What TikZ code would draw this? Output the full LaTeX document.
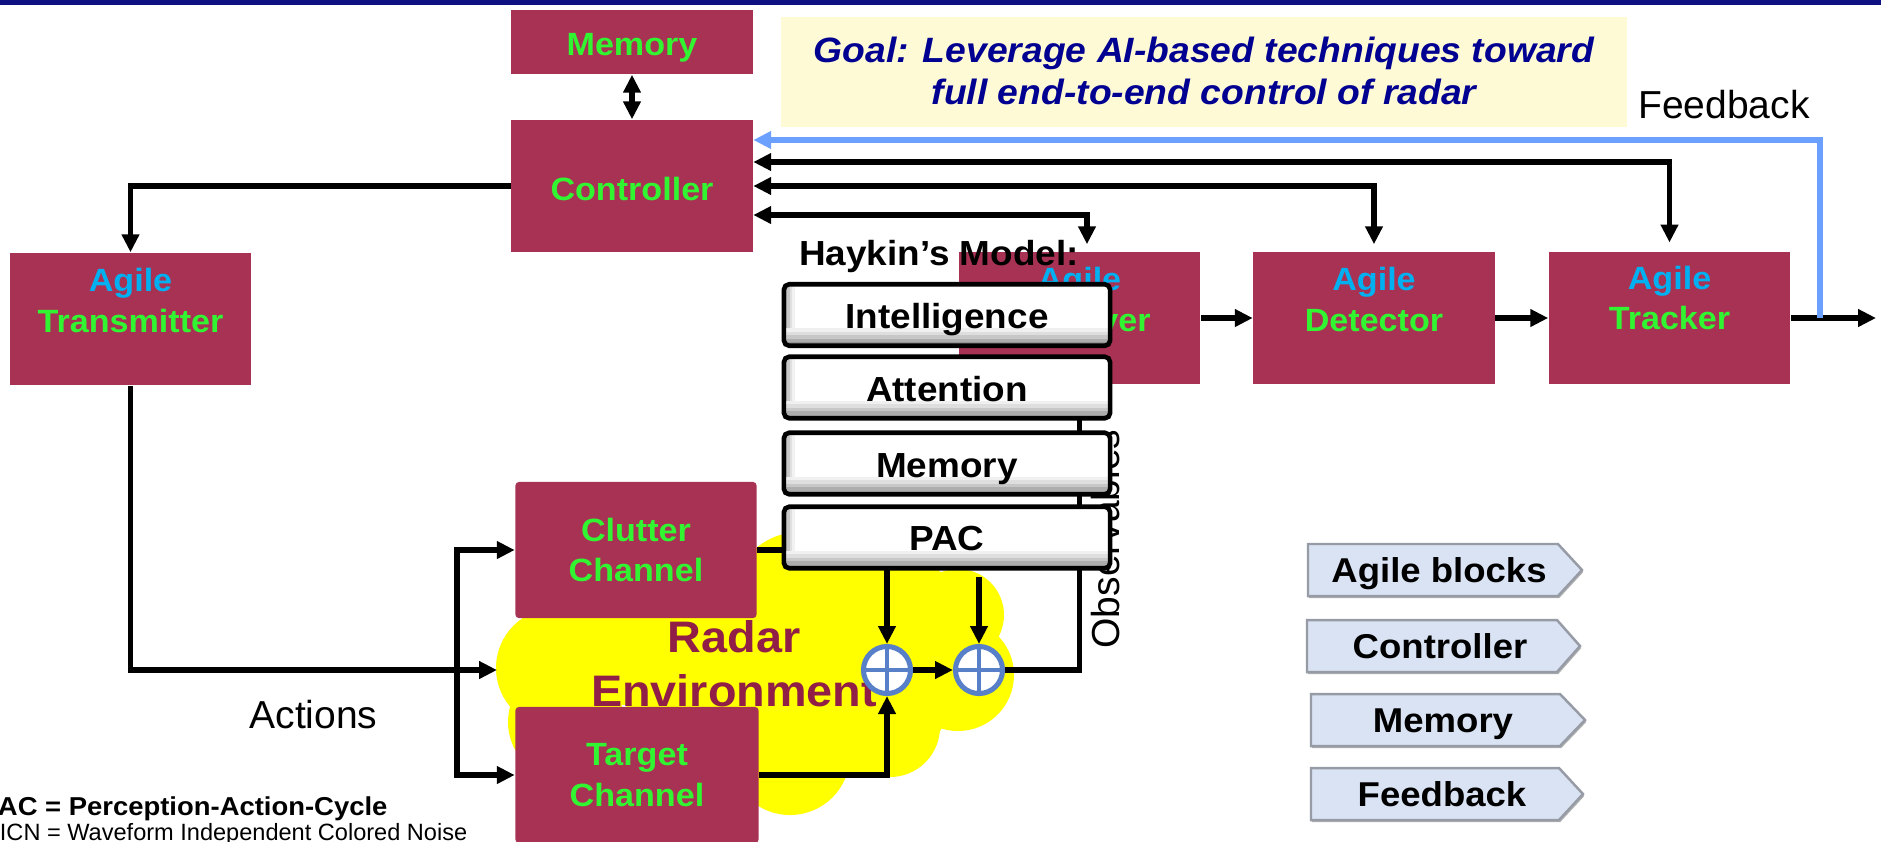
\documentclass[tikz,border=0pt]{standalone}
\usepackage{fontspec}
\setmainfont{Liberation Sans}[BoldFeatures={FakeStretch=1.06},BoldItalicFeatures={FakeStretch=1.06}]
\usetikzlibrary{arrows.meta,calc}

\definecolor{boxred}{RGB}{168,50,84}
\definecolor{lblgreen}{RGB}{50,245,50}
\definecolor{lblblue}{RGB}{0,176,240}
\definecolor{goalfill}{RGB}{255,250,214}
\definecolor{goalblue}{RGB}{0,0,145}
\definecolor{topbar}{RGB}{12,16,128}
\definecolor{envtext}{RGB}{145,30,70}
\definecolor{sumblue}{RGB}{88,128,200}
\definecolor{fbblue}{RGB}{108,160,255}
\definecolor{legfill}{RGB}{218,227,243}
\definecolor{legedge}{RGB}{150,155,165}
\definecolor{cloudyellow}{RGB}{255,255,0}

\begin{document}
\begin{tikzpicture}[x=0.01cm, y=-0.01cm,
  >={Triangle[length=5.1pt,width=4.8pt]},
  redbox/.style={rectangle, fill=boxred, inner sep=0pt, minimum width=2.41cm, minimum height=1.32cm},
  chanbox/.style={redbox, rounded corners=1pt, minimum height=1.36cm},
  lbl/.style={font=\fontsize{9.15}{11.5}\selectfont\bfseries, align=center, inner sep=0pt},
  lblone/.style={font=\fontsize{9.15}{11.5}\selectfont\bfseries, inner sep=0pt, anchor=base, text=lblgreen},
  conn/.style={line width=1.45pt, ->},
  conn2/.style={line width=1.45pt, <->},
  fbline/.style={line width=1.45pt, draw=fbblue, ->},
  sumnode/.style={circle, draw=sumblue, line width=1.45pt, fill=white, minimum size=0.47cm, inner sep=0pt,
    path picture={\draw[sumblue, line width=1.3pt]
      (path picture bounding box.north) -- (path picture bounding box.south)
      (path picture bounding box.west) -- (path picture bounding box.east);}},
  % white bar with a soft inner shadow on its left and bottom edges
  haybox/.style={rectangle, draw=black, line width=1.3pt, fill=white, rounded corners=1.5pt,
    minimum width=3.26cm, minimum height=0.615cm, inner sep=0pt,
    path picture={
      \foreach \a/\b/\c in {0pt/0.8pt/34, 0.8pt/1.6pt/22, 1.6pt/2.4pt/12, 2.4pt/3.2pt/5}
        \fill[black!\c, sharp corners] ([xshift=\a]path picture bounding box.south west) rectangle ([xshift=\b]path picture bounding box.north west);
      \foreach \a/\b/\c in {0pt/1pt/42, 1pt/2pt/32, 2pt/3pt/22, 3pt/4pt/13, 4pt/5pt/6}
        \fill[black!\c, sharp corners] ([yshift=\a]path picture bounding box.south west) rectangle ([yshift=\b]path picture bounding box.south east);}},
  haytxt/.style={font=\fontsize{9.9}{12}\selectfont\bfseries, inner sep=0pt, anchor=base},
  regtxt/.style={font=\fontsize{11.1}{13}\selectfont, inner sep=0pt, anchor=base},
  legshape/.style={fill=legfill, draw=legedge, line width=0.7pt},
  legtxt/.style={font=\fontsize{9.8}{12}\selectfont\bfseries, inner sep=0pt, anchor=base},
]
\useasboundingbox (0,0) rectangle (1881,841);
\fill[white] (0,0) rectangle (1881,841);

% title rule
\fill[topbar] (0,0) rectangle (1881,5);

% goal banner
\node[fill=goalfill, inner sep=0pt, minimum width=8.46cm, minimum height=1.1cm] (goal) at (1204,72) {};
\node[font=\fontsize{10}{11.95}\selectfont\bfseries\itshape, text=goalblue, align=center, inner sep=0pt] (goal-l) at (1204,71)
  {Goal: Leverage AI-based techniques toward\\full end-to-end control of radar};
\node[regtxt] (fb-l) at (1724,118) {Feedback};

% radar environment cloud
\foreach \cx/\cy/\r in {556/668/60, 566/722/58, 790/755/60, 890/727/50, 958/675/56, 958/615/46,
                        910/605/45, 870/600/62, 800/600/68, 720/690/95, 860/680/95}
  \fill[cloudyellow] (\cx,\cy) circle[radius=\r];
\fill[cloudyellow] (545,618) rectangle (760,705);
\coordinate (envW) at (497,670);
\node[font=\fontsize{12.55}{15.36}\selectfont\bfseries, text=envtext, align=center, inner sep=0pt] (env-l) at (734,664)
  {Radar\\Environment};

% blocks
\node[redbox, minimum height=0.64cm] (mem) at (632,42) {};
\node[redbox] (ctl) at (632,186) {};
\node[redbox] (tx) at (130.5,319) {};
\node[redbox] (rx) at (1079.5,318) {};
\node[redbox] (dt) at (1374,318) {};
\node[redbox] (tk) at (1669.5,318) {};
\node[chanbox] (cl) at (636,550) {};
\node[chanbox, minimum width=2.43cm] (tg) at (637,775) {};

\node[lblone] (mem-l) at ($(mem)+(0,13.5)$) {Memory};
\node[lblone] (ctl-l) at ($(ctl)+(0,14)$) {Controller};
\node[lbl] (tx-l) at ($(tx)+(0,-18.5)$) {{\color{lblblue}Agile}\\{\color{lblgreen}Transmitter}};
\node[lbl] (rx-l) at ($(rx)+(0,-18.5)$) {{\color{lblblue}Agile}\\{\color{lblgreen}Receiver}};
\node[lbl] (dt-l) at ($(dt)+(0,-18.5)$) {{\color{lblblue}Agile}\\{\color{lblgreen}Detector}};
\node[lbl] (tk-l) at ($(tk)+(0,-20)$) {{\color{lblblue}Agile}\\{\color{lblgreen}Tracker}};
\node[lbl, text=lblgreen] (cl-l) at (cl) {Clutter\\Channel};
\node[lbl, text=lblgreen] (tg-l) at (tg) {Target\\Channel};

% summing junctions
\node[sumnode] (s1) at (887,670) {};
\node[sumnode] (s2) at (979,670) {};
\coordinate (nz) at (979,577);
\coordinate (tap) at (1820,318);
\coordinate (out) at (1876,318);
\coordinate (br) at (457,670);

% connectors
\draw[conn2] (mem.south) -- (ctl.north);
\draw[conn] (ctl.west) -| (tx.north);
\draw[conn2, shorten >=2pt] ($(ctl.east)+(0,29)$) -| ($(rx.north)+(7.5,0)$);
\draw[conn2, shorten >=2pt] (ctl.east) -| (dt.north);
\draw[conn2, shorten >=2.5pt] ($(ctl.east)+(0,-24)$) -| (tk.north);
\draw[conn] (rx) -- (dt);
\draw[conn] (dt) -- (tk);
\draw[conn] (tk.east) -- (out);
\draw[fbline] (tap) |- ($(ctl.east)+(0,-46)$);

\draw[conn] (tx.south) |- (envW);
\draw[conn] (br) |- (cl.west);
\draw[conn] (br) |- (tg.west);
\draw[conn] (cl.east) -| (s1.north);
\draw[conn] (tg.east) -| (s1.south);
\draw[conn] (s1) -- (s2);
\draw[conn] (nz) -- (s2.north);
\draw[conn] (s2.east) -| (rx.south);

\node[regtxt] (act-l) at (313.5,728) {Actions};
\node[regtxt, rotate=90] (obs-l) at (1119,539) {Observables};

% Haykin's model stack
\node[haytxt] (hay-l) at (939,265) {Haykin’s Model:};
\node[haybox] (h1) at (947,315) {};
\node[haybox] (h2) at (947,387.5) {};
\node[haybox] (h3) at (947,463.5) {};
\node[haybox] (h4) at (947,537.5) {};
\node[haytxt] (h1-l) at ($(h1)+(0,13.5)$) {Intelligence};
\node[haytxt] (h2-l) at ($(h2)+(0,13.5)$) {Attention};
\node[haytxt] (h3-l) at ($(h3)+(0,13.5)$) {Memory};
\node[haytxt] (h4-l) at ($(h4)+(0,12.5)$) {PAC};

% legend tags, each with a faint shadow
\foreach \lx/\bx/\tx/\ty in {1308/1558/1582/544, 1307/1557/1580/620, 1311/1560/1585/694, 1311/1559/1583/768} {
  \begin{scope}[xshift=0.35pt, yshift=-0.6pt]
    \fill[black!30] (\lx,\ty) -- (\bx,\ty) -- (\tx,{\ty+26}) -- (\bx,{\ty+52}) -- (\lx,{\ty+52}) -- cycle;
  \end{scope}
  \path[legshape] (\lx,\ty) -- (\bx,\ty) -- (\tx,{\ty+26}) -- (\bx,{\ty+52}) -- (\lx,{\ty+52}) -- cycle;
}
\node[legtxt] (leg1) at (1439,582.5) {Agile blocks};
\node[legtxt] (leg2) at (1440,658.5) {Controller};
\node[legtxt] (leg3) at (1443,732.5) {Memory};
\node[legtxt] (leg4) at (1442,806.5) {Feedback};

% footnotes
\node[anchor=base west, inner sep=0pt, font=\fontsize{7.36}{9}\selectfont\bfseries] (pacnote) at (-19,815) {PAC = Perception-Action-Cycle};
\node[anchor=base west, inner sep=0pt, font=\fontsize{6.7}{8}\selectfont] (wicnnote) at (-23,840) {WICN = Waveform Independent Colored Noise};
\end{tikzpicture}
\end{document}
